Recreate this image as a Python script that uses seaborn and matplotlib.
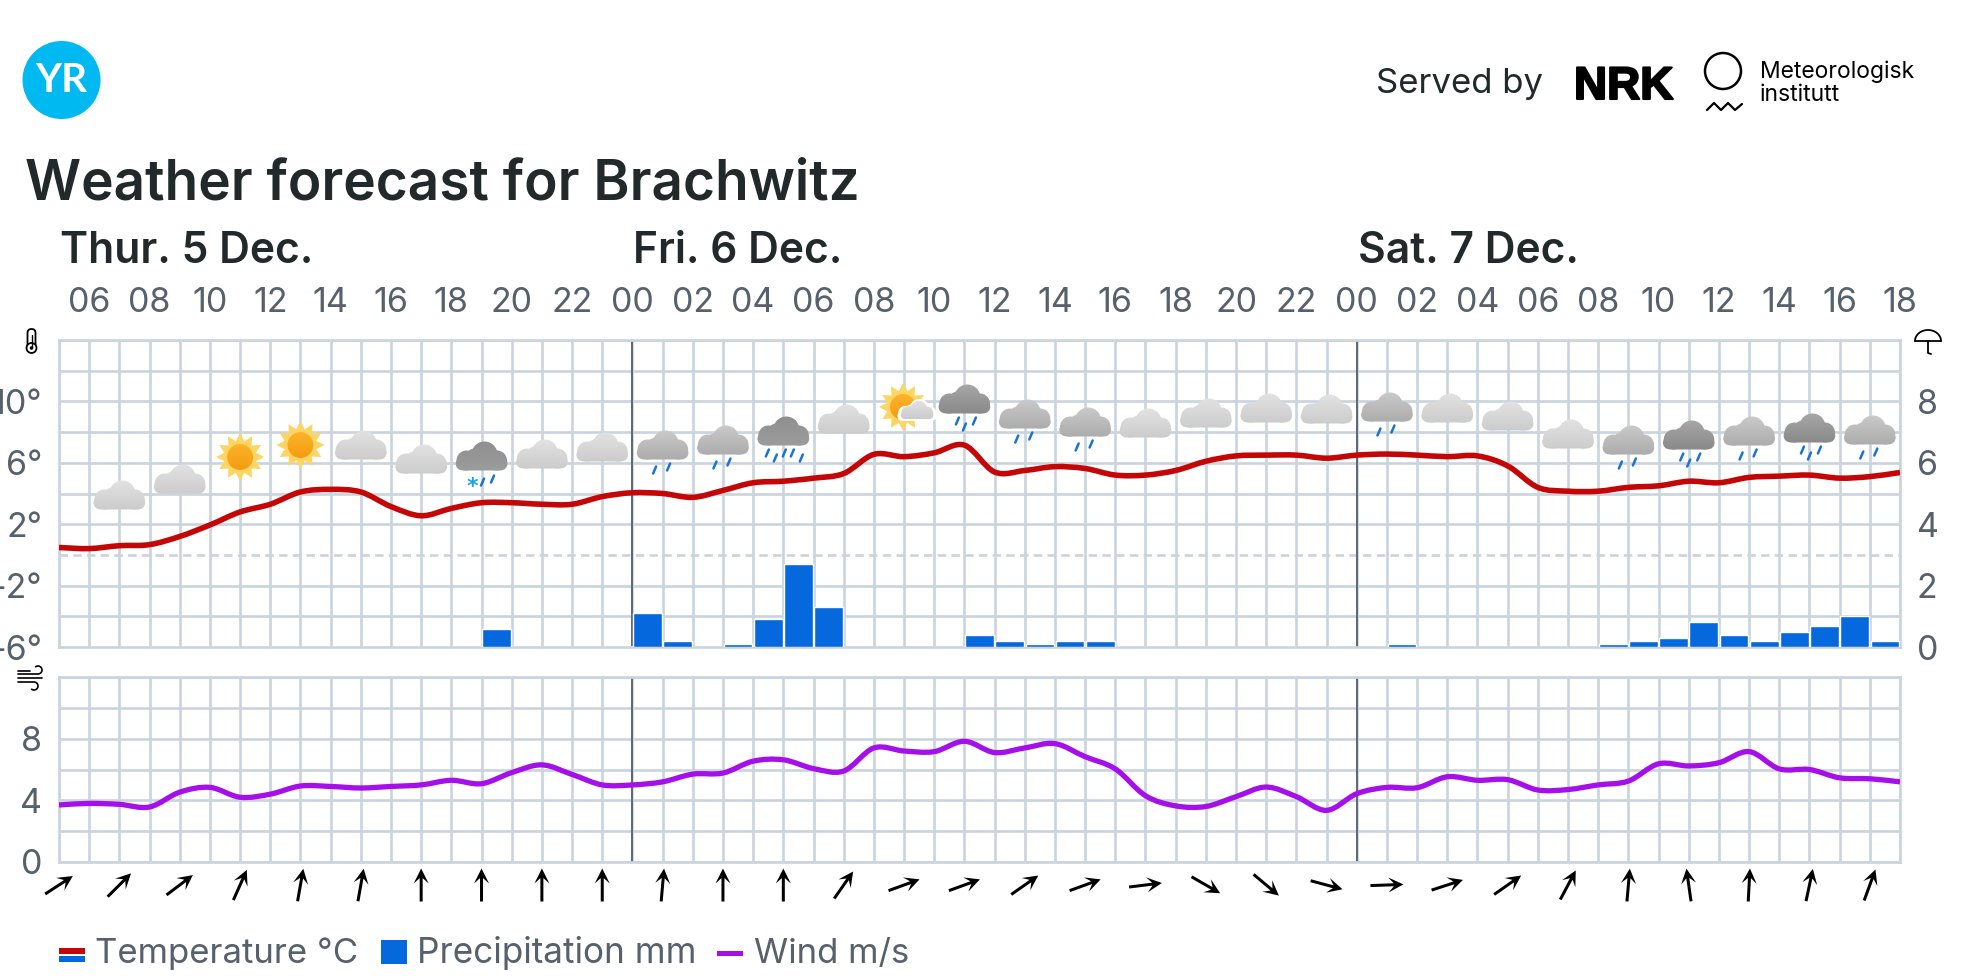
import numpy as np
import matplotlib
matplotlib.use("Agg")
import matplotlib.pyplot as plt
import matplotlib.patheffects as pe
import seaborn as sns
from matplotlib.colors import LinearSegmentedColormap
from matplotlib.patches import Circle, Ellipse, FancyBboxPatch, PathPatch, Polygon, Rectangle
from matplotlib.path import Path

# hours since Thu 05:00
hours = list(range(62))

temperature = [0.48, 0.41, 0.6, 0.67, 1.2, 1.95, 2.8, 3.3, 4.1, 4.27, 4.1, 3.15, 2.55, 3.03, 3.4, 3.4,
               3.3, 3.3, 3.8, 4.05, 4.0, 3.75, 4.2, 4.7, 4.8, 5.0, 5.3, 6.55, 6.4, 6.65, 7.15, 5.4,
               5.5, 5.75, 5.63, 5.2, 5.2, 5.5, 6.1, 6.45, 6.5, 6.5, 6.3, 6.5, 6.57, 6.5, 6.4, 6.45,
               5.8, 4.4, 4.15, 4.15, 4.4, 4.5, 4.8, 4.7, 5.05, 5.13, 5.2, 5.0, 5.1, 5.37]

wind = [3.7, 3.8, 3.74, 3.57, 4.53, 4.84, 4.2, 4.4, 4.93, 4.9, 4.8, 4.9, 5.0, 5.3, 5.08, 5.8,
        6.3, 5.68, 5.0, 5.0, 5.2, 5.7, 5.77, 6.54, 6.63, 6.06, 5.9, 7.4, 7.2, 7.16, 7.83, 7.1,
        7.4, 7.68, 6.83, 6.04, 4.3, 3.64, 3.6, 4.24, 4.86, 4.24, 3.35, 4.43, 4.84, 4.82, 5.53, 5.3,
        5.34, 4.67, 4.7, 5.0, 5.25, 6.37, 6.23, 6.44, 7.16, 6.04, 6.0, 5.46, 5.4, 5.2]

# one value per hour column (61 columns)
precipitation = [0, 0, 0, 0, 0, 0, 0, 0, 0, 0, 0, 0, 0, 0, 0.6, 0, 0, 0, 0, 1.1,
                 0.2, 0, 0.1, 0.9, 2.7, 1.3, 0, 0, 0, 0, 0.4, 0.2, 0.1, 0.2, 0.2, 0, 0, 0, 0, 0,
                 0, 0, 0, 0, 0.1, 0, 0, 0, 0, 0, 0, 0.1, 0.2, 0.3, 0.8, 0.4, 0.2, 0.5, 0.7, 1.0, 0.2]

# wind arrows every 2 hours, degrees clockwise from north
arrow_hours = list(range(0, 61, 2))
arrow_angles = [57, 45, 53, 24, 10, 10, 0, 0, 0, 0, 5, 0, 0, 35, 70, 70,
                55, 70, 83, 120, 130, 105, 88, 72, 55, 28, 5, -8, 3, 12, 20]

hour_labels = ["06", "08", "10", "12", "14", "16", "18", "20", "22", "00", "02", "04", "06", "08", "10", "12",
               "14", "16", "18", "20", "22", "00", "02", "04", "06", "08", "10", "12", "14", "16", "18"]
day_labels = ["Thur. 5 Dec.", "Fri. 6 Dec.", "Sat. 7 Dec."]
day_starts = [0, 19, 43]
midnights = [19, 43]

icon_hours = list(range(2, 61, 2))
icon_kinds = ["c", "c", "sun", "sun", "c", "c", "snow", "c", "c", "r", "r", "h", "c", "suncloud", "d", "r",
              "r", "c", "c", "c", "c", "r", "c", "c", "c", "r", "d", "r", "d", "r"]
icon_y_px = [495, 479, 457, 445, 445, 459, 456, 454, 447, 445, 440, 431, 419, 407, 399, 414,
             422, 423, 413, 408, 409, 407, 408, 416, 434, 440, 435, 431, 428, 430]

W, H = 1987, 976
LEFT, RIGHT = 59, 1900
GRID = "#c9d4dd"
TEXT = "#21292b"
MUTED = "#56616c"
RED = "#c40606"
BLUE = "#0569dd"
PURPLE = "#a50fe9"

sns.set_theme(style="white")
plt.rcParams["font.family"] = ["Inter", "DejaVu Sans"]

fig = plt.figure(figsize=(W / 100, H / 100), dpi=100, facecolor="white")


def px_axes(top, bottom):
    return fig.add_axes([LEFT / W, 1 - bottom / H, (RIGHT - LEFT) / W, (bottom - top) / H])


def style_grid(ax, yticks, ylabels):
    ax.set_xlim(0, 61)
    ax.set_xticks(hours)
    ax.set_yticks(yticks)
    ax.set_yticklabels(ylabels)
    ax.grid(True, color=GRID, linewidth=1.9)
    ax.set_axisbelow(True)
    ax.tick_params(length=0, labelsize=24.5, labelcolor=MUTED, pad=12)
    for spine in ax.spines.values():
        spine.set_color(GRID)
        spine.set_linewidth(1.9)
    for x in midnights:
        ax.axvline(x, color="#4b5563", linewidth=1.2, zorder=1.5)


def curve_line(ax, line):
    # redraw the seaborn line as a bezier through the same hourly points
    xy = line.get_xydata()
    slope = np.gradient(xy[:, 1], xy[:, 0])
    verts = [xy[0]]
    codes = [Path.MOVETO]
    for i in range(len(xy) - 1):
        dx = (xy[i + 1, 0] - xy[i, 0]) / 3
        verts += [(xy[i, 0] + dx, xy[i, 1] + slope[i] * dx),
                  (xy[i + 1, 0] - dx, xy[i + 1, 1] - slope[i + 1] * dx),
                  xy[i + 1]]
        codes += [Path.CURVE4] * 3
    ax.add_patch(PathPatch(Path(verts, codes), facecolor="none", edgecolor=line.get_color(),
                           linewidth=line.get_linewidth(), capstyle="butt", joinstyle="round", zorder=3))
    line.set_visible(False)


# temperature panel
ax_temp = px_axes(340, 647)
ax_temp.set_ylim(-6, 14)
temp_ticks = list(range(-6, 15, 2))
temp_labels = ["-6°", "", "-2°", "", "2°", "", "6°", "", "10°", "", ""]
style_grid(ax_temp, temp_ticks, temp_labels)
for gridline, value in zip(ax_temp.get_ygridlines(), temp_ticks):
    if value == 0:
        gridline.set_color("#ccd3da")
        gridline.set_dashes([3.2, 2])
ax_temp.set_xticklabels([hour_labels[(i - 1) // 2] if i % 2 else "" for i in hours])
ax_temp.tick_params(axis="x", top=False, labeltop=True, labelbottom=False, pad=15)
sns.lineplot(x=hours, y=temperature, ax=ax_temp, color=RED, linewidth=4.0, errorbar=None)
curve_line(ax_temp, ax_temp.get_lines()[-1])
ax_temp.set_xlabel("")
ax_temp.set_ylabel("")

# precipitation shares the panel, right hand scale
ax_rain = ax_temp.twinx()
ax_rain.set_ylim(0, 10)
sns.barplot(x=[h + 0.5 for h in hours[:-1]], y=precipitation, ax=ax_rain, native_scale=True,
            color=BLUE, saturation=1, width=0.95, errorbar=None, zorder=2)
ax_rain.set_xlim(0, 61)
ax_rain.set_yticks([0, 2, 4, 6, 8])
ax_rain.set_yticklabels(["0", "2", "4", "6", "8"])
ax_rain.tick_params(axis="y", length=0, labelsize=24.5, labelcolor=MUTED, pad=12)
ax_rain.set_ylabel("")
ax_rain.grid(False)
for spine in ax_rain.spines.values():
    spine.set_visible(False)

# wind panel
ax_wind = px_axes(677, 862)
ax_wind.set_ylim(0, 12)
style_grid(ax_wind, list(range(0, 13, 2)), ["0", "", "4", "", "8", "", ""])
ax_wind.tick_params(axis="x", labelbottom=False)
sns.lineplot(x=hours, y=wind, ax=ax_wind, color=PURPLE, linewidth=3.8, errorbar=None)
curve_line(ax_wind, ax_wind.get_lines()[-1])
ax_wind.set_xlabel("")
ax_wind.set_ylabel("")

# wind direction arrows
ax_arrows = px_axes(865, 905)
ax_arrows.set_xlim(0, 61)
ax_arrows.set_ylim(0, 1)
ax_arrows.axis("off")
rad = np.radians(arrow_angles)
ax_arrows.quiver(arrow_hours, [0.5] * len(arrow_hours), np.sin(rad), np.cos(rad), angles="uv", pivot="mid",
                 units="dots", scale=1 / 33, width=3.0, headwidth=5.0, headlength=5.0, headaxislength=3.2,
                 color="black", clip_on=False)

# overlay in pixel coordinates for header, legend and weather symbols
ov = fig.add_axes([0, 0, 1, 1], zorder=5)
ov.set_xlim(0, W)
ov.set_ylim(H, 0)
ov.axis("off")
ov.patch.set_alpha(0)
ov.set_autoscale_on(False)


def hour_x(h):
    return LEFT + (RIGHT - LEFT) * h / 61


def gradient(parts, top, bottom, c0, c1, left, right, z=4):
    cmap = LinearSegmentedColormap.from_list("g", [c0, c1])
    for part in parts:
        part.set_transform(ov.transData)
        ov.imshow(np.linspace(0, 1, 32).reshape(-1, 1), extent=(left, right, bottom, top), cmap=cmap,
                  aspect="auto", clip_path=part, zorder=z, interpolation="bilinear")


def cloud(cx, cy, c0, c1, scale=1.0, z=4):
    s = scale
    parts = [Circle((cx + 3 * s, cy - 1.5 * s), 13 * s),
             Circle((cx - 7 * s, cy + 1 * s), 8.5 * s),
             Circle((cx - 15 * s, cy + 4.5 * s), 10 * s),
             Circle((cx + 15.5 * s, cy + 4.5 * s), 10 * s),
             FancyBboxPatch((cx - 26 * s, cy + 1 * s), 52 * s, 13.5 * s,
                            boxstyle=f"round,pad=0,rounding_size={8 * s}")]
    gradient(parts, cy - 15 * s, cy + 15 * s, c0, c1, cx - 27 * s, cx + 27 * s, z)


def sun(cx, cy, r=24):
    angles = np.linspace(0, 2 * np.pi, 25)[:-1] + np.pi / 2
    radii = np.where(np.arange(24) % 2 == 0, r, r * 0.68)
    pts = np.column_stack([cx + radii * np.cos(angles), cy + radii * np.sin(angles)])
    ov.add_patch(Polygon(pts, closed=True, facecolor="#fdd562", edgecolor="none", zorder=3.8))
    core = Circle((cx, cy), r * 0.54)
    gradient([core], cy - r * 0.54, cy + r * 0.54, "#fbb52a", "#f59b12", cx - r, cx + r, 3.9)


def drops(cx, cy, offsets, color="#1a73d0"):
    for dx, dy in offsets:
        ov.plot([cx + dx - 1.5, cx + dx + 1.5], [cy + dy + 3.5, cy + dy - 3.5], color=color, lw=1.8,
                solid_capstyle="round", zorder=4)


LIGHT = ("#e2e2e2", "#cccccc")
MID = ("#cacaca", "#acacac")
DARK = ("#a6a6a6", "#8a8a8a")
HEAVY = ("#8f8f8f", "#9c9c9c")
DROPS2 = [(-8, 25), (6, 22)]
DROPS3 = [(-7, 22), (0, 28), (10, 22)]
DROPS5 = [(-16, 22), (-8, 27), (1, 22), (9, 22), (18, 27)]

for h, kind, cy in zip(icon_hours, icon_kinds, icon_y_px):
    cx = hour_x(h)
    if kind == "c":
        cloud(cx, cy, *LIGHT)
    elif kind == "r":
        cloud(cx, cy, *MID)
        drops(cx, cy, DROPS2)
    elif kind == "d":
        cloud(cx, cy, *DARK)
        drops(cx, cy, DROPS3)
    elif kind == "h":
        cloud(cx, cy, *HEAVY)
        drops(cx, cy, DROPS5)
    elif kind == "snow":
        cloud(cx, cy, *HEAVY)
        drops(cx, cy, [(1, 26), (11, 23)])
        ov.text(cx - 9, cy + 31, "*", color="#18a6e0", fontsize=16, ha="center", va="center",
                family="DejaVu Sans", fontweight="bold", zorder=4)
    elif kind == "sun":
        sun(cx, cy)
    elif kind == "suncloud":
        sun(cx - 1, cy)
        cloud(cx + 13, cy + 3, "white", "white", scale=0.76, z=4.0)
        cloud(cx + 13, cy + 3, *LIGHT, scale=0.63, z=4.1)

# logos and header text
ov.add_patch(Circle((61.5, 80), 39, facecolor="#00b9f1", edgecolor="none"))
ov.text(61.5, 81, "YR", color="white", fontsize=29, fontweight="bold", ha="center", va="center", family="Lato")
ov.text(25, 200, "Weather forecast for Brachwitz", color=TEXT, fontsize=39.6, fontweight="semibold", va="baseline")
for label, h in zip(day_labels, day_starts):
    ov.text(hour_x(h) + 1, 263, label, color=TEXT, fontsize=30.6, fontweight="semibold", va="baseline")
ov.text(1376, 93, "Served by", color=TEXT, fontsize=25, va="baseline")
nrk = ov.text(1574, 99, "NRK", color="black", fontsize=33, fontweight="bold", va="baseline", family="Liberation Sans")
nrk.set_path_effects([pe.withStroke(linewidth=1.5, foreground="black")])
ov.add_patch(Ellipse((1723, 71), 36, 36, facecolor="none", edgecolor="black", linewidth=1.8))
ov.plot([1707, 1714, 1721, 1728, 1735, 1742], [110, 103, 110, 103, 110, 104], color="black", lw=1.6)
ov.text(1760, 78, "Meteorologisk", color="black", fontsize=16.5, va="baseline")
ov.text(1760, 101, "institutt", color="black", fontsize=16.5, va="baseline")

# small axis symbols: thermometer, umbrella, wind
ov.add_patch(FancyBboxPatch((27.5, 329), 8, 23, boxstyle="round,pad=0,rounding_size=4",
                            facecolor="white", edgecolor="black", linewidth=1.3))
ov.add_patch(Circle((31.5, 348), 5, facecolor="white", edgecolor="black", linewidth=1.3))
ov.add_patch(Circle((31.5, 348), 1.8, facecolor="black", edgecolor="none"))
ov.plot([31.5, 31.5], [335, 347], color="black", lw=1.0)
theta = np.linspace(np.pi, 2 * np.pi, 30)
ov.plot(1928 + 13 * np.cos(theta), 341 + 11 * np.sin(theta), color="black", lw=1.3)
ov.plot([1915, 1941], [341, 341], color="black", lw=1.3)
ov.plot([1928, 1928, 1931], [341, 353, 354], color="black", lw=1.3)
arc_top = np.linspace(0.5 * np.pi, -0.7 * np.pi, 20)
arc_bottom = np.linspace(-0.5 * np.pi, 0.7 * np.pi, 20)
ov.plot([18, 30], [671, 671], color="black", lw=1.2)
ov.plot(np.r_[18, 38 + 4 * np.cos(arc_top)], np.r_[674, 670 + 4 * np.sin(arc_top)], color="black", lw=1.2)
ov.plot([18, 42], [678, 678], color="black", lw=1.2)
ov.plot(np.r_[18, 34 + 4 * np.cos(arc_bottom)], np.r_[682, 686 + 4 * np.sin(arc_bottom)], color="black", lw=1.2)

# legend
ov.add_patch(Rectangle((59, 948), 26, 6, facecolor=RED, edgecolor="none"))
ov.add_patch(Rectangle((59, 956), 26, 6, facecolor=BLUE, edgecolor="none"))
ov.text(95, 963, "Temperature °C", color=MUTED, fontsize=25, va="baseline")
ov.add_patch(Rectangle((381, 940), 26, 24, facecolor=BLUE, edgecolor="none"))
ov.text(417, 963, "Precipitation mm", color=MUTED, fontsize=25.3, va="baseline")
ov.add_patch(Rectangle((717, 951), 26, 5, facecolor=PURPLE, edgecolor="none"))
ov.text(754, 963, "Wind m/s", color=MUTED, fontsize=25, va="baseline")

fig.savefig("out.png", dpi=100)
